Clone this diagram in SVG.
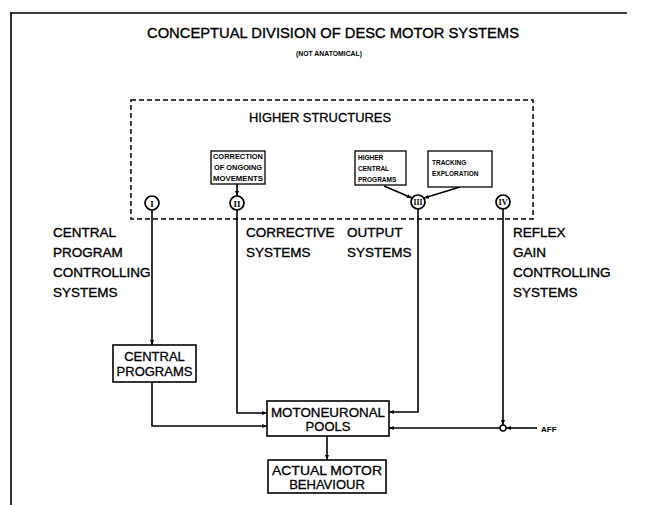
<svg xmlns="http://www.w3.org/2000/svg" width="649" height="505" viewBox="0 0 649 505">
<defs>
<marker id="ah" viewBox="0 0 10 10" refX="10" refY="5" markerWidth="5" markerHeight="5" orient="auto" markerUnits="userSpaceOnUse">
<path d="M0,1 L10,5 L0,9 z" fill="#000"/>
</marker>
</defs>
<style>
.ln{fill:none;stroke:#000;stroke-width:1.6}
.bx{fill:#fff;stroke:#000;stroke-width:1.6}
.sb{fill:#fff;stroke:#000;stroke-width:1.3}
.lb{font-family:"Liberation Sans",Arial,sans-serif;font-size:13.5px;fill:#000;stroke:#000;stroke-width:0.35}
.bt{font-family:"Liberation Sans",Arial,sans-serif;font-size:13px;fill:#000;stroke:#000;stroke-width:0.3;text-anchor:middle}
.sm{font-family:"Liberation Sans",Arial,sans-serif;font-size:6.5px;font-weight:bold;fill:#000}
.rn{font-family:"Liberation Serif",serif;font-size:9px;font-weight:bold;fill:#000;text-anchor:middle}
.cir{fill:#fff;stroke:#000;stroke-width:1.7}
</style>
<rect width="649" height="505" fill="#fff"/>
<g id="frame">
<path class="ln" d="M10,13 H627 M11,13 V505"/>
</g>
<g id="title">
<text x="333" y="38" font-family="'Liberation Sans',Arial,sans-serif" font-size="14.5" stroke="#000" stroke-width="0.35" text-anchor="middle" textLength="372" lengthAdjust="spacingAndGlyphs">CONCEPTUAL DIVISION OF DESC  MOTOR SYSTEMS</text>
<text x="329" y="56" font-family="'Liberation Sans',Arial,sans-serif" font-size="7.5" font-weight="bold" text-anchor="middle" textLength="66" lengthAdjust="spacingAndGlyphs">(NOT ANATOMICAL)</text>
</g>
<g id="higher-structures">
<rect x="131" y="100" width="402" height="119" fill="none" stroke="#000" stroke-width="1.5" stroke-dasharray="5,3"/>
<text x="320" y="122" font-family="'Liberation Sans',Arial,sans-serif" font-size="13" stroke="#000" stroke-width="0.3" text-anchor="middle" textLength="142" lengthAdjust="spacingAndGlyphs">HIGHER STRUCTURES</text>
</g>
<g id="connectors">
<path class="ln" d="M237,184 V196" marker-end="url(#ah)"/>
<path class="ln" d="M384,186 L412,198" marker-end="url(#ah)"/>
<path class="ln" d="M460,187 L424,198" marker-end="url(#ah)"/>
<path class="ln" d="M152,210 V345" marker-end="url(#ah)"/>
<path class="ln" d="M237,210 V413 H267" marker-end="url(#ah)"/>
<path class="ln" d="M418,209 V412 H389" marker-end="url(#ah)"/>
<path class="ln" d="M503,209 V425" marker-end="url(#ah)"/>
<path class="ln" d="M152,382 V426 H267" marker-end="url(#ah)"/>
<path class="ln" d="M500,428 H389" marker-end="url(#ah)"/>
<path class="ln" d="M537,428 H506" marker-end="url(#ah)"/>
<path class="ln" d="M327,436 V460" marker-end="url(#ah)"/>
<circle cx="503" cy="428" r="3" fill="#fff" stroke="#000" stroke-width="1.4"/>
</g>
<g id="node-I">
<circle class="cir" cx="152" cy="203" r="7"/>
<text class="rn" x="152" y="206.5">I</text>
</g>
<g id="node-II">
<circle class="cir" cx="237" cy="203" r="7"/>
<text class="rn" x="237" y="206.5">II</text>
</g>
<g id="node-III">
<circle class="cir" cx="418" cy="202" r="7"/>
<text class="rn" x="418" y="205" font-size="8" textLength="9" lengthAdjust="spacingAndGlyphs">III</text>
</g>
<g id="node-IV">
<circle class="cir" cx="503" cy="202" r="7"/>
<text class="rn" x="503" y="205" font-size="8" textLength="9" lengthAdjust="spacingAndGlyphs">IV</text>
</g>
<g id="correction">
<rect class="sb" x="211" y="151" width="54" height="33"/>
<text class="sm" x="238" y="159" text-anchor="middle" textLength="50" lengthAdjust="spacingAndGlyphs">CORRECTION</text>
<text class="sm" x="238" y="170" text-anchor="middle" textLength="48" lengthAdjust="spacingAndGlyphs">OF ONGOING</text>
<text class="sm" x="238" y="181" text-anchor="middle" textLength="50" lengthAdjust="spacingAndGlyphs">MOVEMENTS</text>
</g>
<g id="higher-central-programs">
<rect class="sb" x="355" y="151" width="51" height="34"/>
<text class="sm" x="358" y="160">HIGHER</text>
<text class="sm" x="358" y="171">CENTRAL</text>
<text class="sm" x="358" y="182">PROGRAMS</text>
</g>
<g id="tracking">
<rect class="sb" x="428" y="151" width="64" height="36"/>
<text class="sm" x="432" y="165">TRACKING</text>
<text class="sm" x="432" y="176">EXPLORATION</text>
</g>
<g id="label-central">
<text class="lb" x="53" y="237">CENTRAL</text>
<text class="lb" x="53" y="257">PROGRAM</text>
<text class="lb" x="53" y="277">CONTROLLING</text>
<text class="lb" x="53" y="297">SYSTEMS</text>
</g>
<g id="label-corrective">
<text class="lb" x="246" y="237">CORRECTIVE</text>
<text class="lb" x="246" y="257">SYSTEMS</text>
</g>
<g id="label-output">
<text class="lb" x="347" y="237">OUTPUT</text>
<text class="lb" x="347" y="257">SYSTEMS</text>
</g>
<g id="label-reflex">
<text class="lb" x="513" y="237">REFLEX</text>
<text class="lb" x="513" y="257">GAIN</text>
<text class="lb" x="513" y="277">CONTROLLING</text>
<text class="lb" x="513" y="297">SYSTEMS</text>
</g>
<g id="central-programs">
<rect class="bx" x="113" y="345" width="83" height="37"/>
<text class="bt" x="154.5" y="361">CENTRAL</text>
<text class="bt" x="154.5" y="376">PROGRAMS</text>
</g>
<g id="motoneuronal-pools">
<rect class="bx" x="267" y="401" width="122" height="35"/>
<text class="bt" x="328" y="417" textLength="114" lengthAdjust="spacingAndGlyphs">MOTONEURONAL</text>
<text class="bt" x="328" y="431">POOLS</text>
</g>
<g id="actual-motor-behaviour">
<rect class="bx" x="268" y="460" width="118" height="33"/>
<text class="bt" x="327" y="475" textLength="110" lengthAdjust="spacingAndGlyphs">ACTUAL  MOTOR</text>
<text class="bt" x="327" y="489">BEHAVIOUR</text>
</g>
<g id="aff">
<text x="541" y="432" font-family="'Liberation Sans',Arial,sans-serif" font-size="8" font-weight="bold">AFF</text>
</g>
</svg>
